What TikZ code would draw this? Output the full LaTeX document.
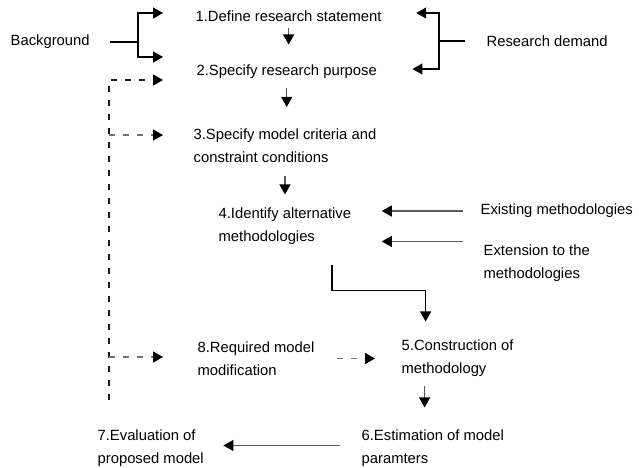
\documentclass[tikz,border=0pt]{standalone}
\usepackage{fontspec}
\setmainfont{Liberation Sans}
\usetikzlibrary{arrows.meta, positioning, calc}
\tikzset{
  every picture/.style={line width=1.3pt},
  every node/.style={font=\fontsize{14.8pt}{23pt}\selectfont},
  txt/.style={anchor=west, inner sep=0pt, align=left},
  >={Triangle[length=10pt, width=11pt, color=black]},
  conn/.style={draw=black!65, ->},
  fork/.style={draw=black},
  fb/.style={draw=black!55, dash pattern=on 6pt off 8pt}
}

\begin{document}
\begin{tikzpicture}[x=1pt, y=-1pt, tips=proper]
    \useasboundingbox (0,0) rectangle (639,467);

    \node [txt] (bg) at (10,42) {Background};
    \node [txt] (s1) at (195,16) {1.Define research statement};
    \node [txt] (s2) at (196,72) {2.Specify research purpose};
    \node [txt] (dem) at (486,41) {Research demand};
    \node [txt] (s3) at (193,145.5) {3.Specify model criteria and\\constraint conditions};
    \node [txt] (s4) at (218,226.5) {4.Identify alternative\\methodologies};
    \node [txt] (ex) at (480,211) {Existing methodologies};
    \node [txt] (ext) at (483,263.5) {Extension to the\\methodologies};
    \node [txt] (s8) at (197,358.5) {8.Required model\\modification};
    \node [txt] (s5) at (401,358.5) {5.Construction of\\methodology};
    \node [txt] (s6) at (361,448.5) {6.Estimation of model\\paramters};
    \node [txt] (s7) at (97,448.5) {7.Evaluation of\\proposed model};

    \coordinate (bgfork) at (138,42);
    \coordinate (bgin) at (163,57);
    \coordinate (demfork) at (439,41);
    \coordinate (fbend) at (109,400);
    \coordinate (fbtop) at (163,80);
    \coordinate (fbmid) at (163,135);
    \coordinate (fblow) at (163,357);

    % background and research demand
    \draw[fork, shorten <=20pt] (bg.east) -- (bgfork);
    \draw[fork, ->, shorten >=32pt] (bgfork) |- ([yshift=3pt]s1.west);
    \draw[fork, ->] (bgfork) |- (bgin);
    \draw[fork, shorten <=21pt] (dem.west) -- (demfork);
    \draw[fork, ->, shorten >=34pt] (demfork) |- ([yshift=3pt]s1.east);
    \draw[fork, ->, shorten >=35pt] (demfork) |- ([yshift=3pt]s2.east);

    % main steps
    \draw(s1.south) edge[conn, shorten <=6pt, shorten >=20pt] (s1.south |- s2.north);
    \draw(s2.south) edge[conn, shorten <=8pt, shorten >=21pt] (s2.south |- s3.north);
    \draw(s3.south) edge[conn, shorten <=13pt, shorten >=13pt] (s3.south |- s4.north);
    \draw(ex.west) edge[conn, shorten <=17pt, shorten >=30pt] (ex.west -| s4.east);
    \draw([xshift=-20pt, yshift=3pt]ext.north west) edge[conn, shorten >=30pt] ([yshift=3pt]ext.north west -| s4.east);
    \draw[fork, ->, shorten <=19pt, shorten >=18pt] ([xshift=47pt]s4.south) -- ++(0,45) -| ([xshift=-32pt]s5.north);
    \draw([xshift=-33pt]s5.south) edge[conn, shorten <=8pt, shorten >=22pt] ([xshift=-33pt]s5.south |- s6.north);
    \draw([yshift=3pt]s6.west) edge[conn, shorten <=21pt, shorten >=19pt] ([yshift=3pt]s6.west -| s7.east);

    % feedback
    \draw[fb, draw=black!90, ->] (fbend) |- (fbtop);
    \draw[fb, ->] (fbend |- fbmid) -- (fbmid);
    \draw[fb, ->] (fbend |- fblow) -- (fblow);
    \draw(s8.east) edge[fb, ->, shorten <=22pt, shorten >=26pt] (s5.west);
\end{tikzpicture}
\end{document}
